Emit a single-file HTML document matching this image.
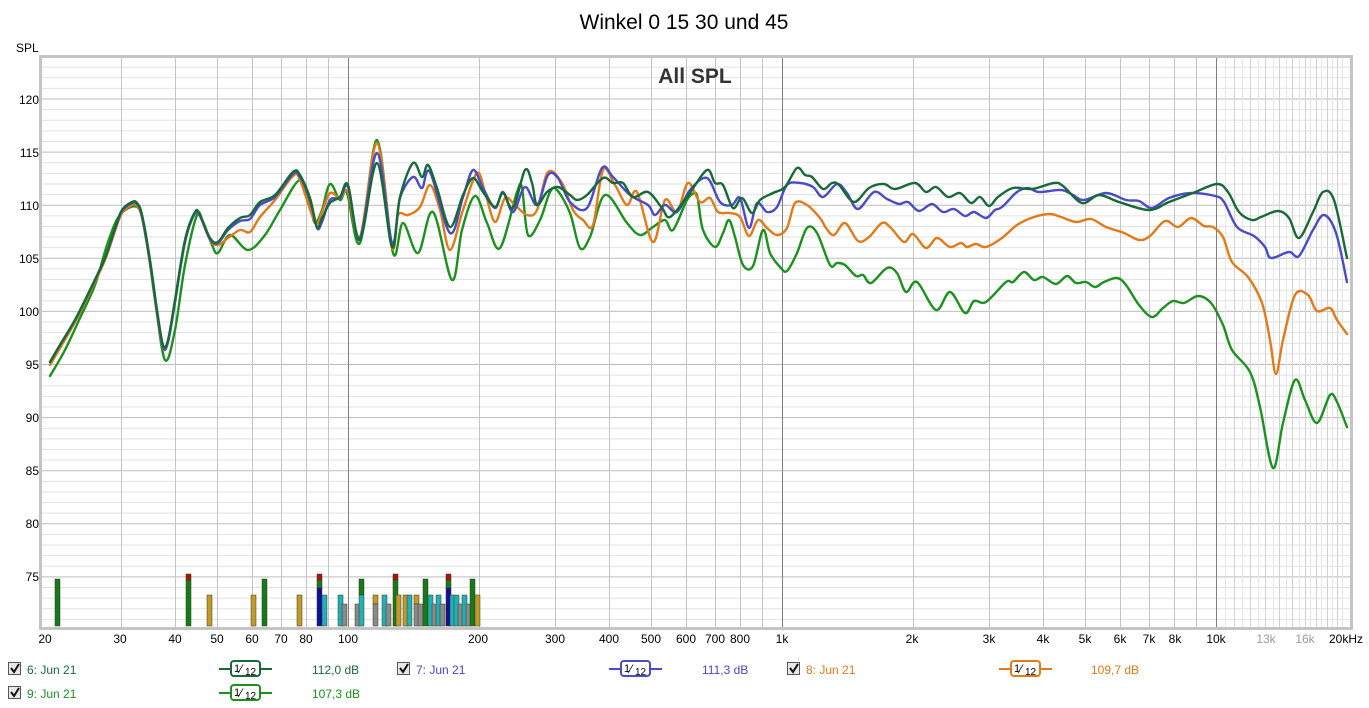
<!DOCTYPE html>
<html><head><meta charset="utf-8"><style>
html,body{margin:0;padding:0;background:#fff;width:1369px;height:708px;overflow:hidden}
svg{display:block;font-family:"Liberation Sans",sans-serif}
</style></head><body>
<svg id="s" width="1369" height="708" xmlns="http://www.w3.org/2000/svg">
<rect width="1369" height="708" fill="#fff"/>
<text x="684" y="29" font-size="21" text-anchor="middle" fill="#000">Winkel 0 15 30 und 45</text>
<text x="16" y="52" font-size="12" fill="#000">SPL</text>
<rect x="40.5" y="56.5" width="1311" height="572" fill="none" stroke="#c4c4c4" stroke-width="3"/>
<g id="grid"></g>
<g id="bars"></g>
<text x="695" y="83" font-size="21" font-weight="bold" text-anchor="middle" fill="#333">All SPL</text>
<g id="curves" fill="none" stroke-width="2.4" stroke-linejoin="round" stroke-linecap="round"></g>
<g font-size="12" fill="#000" text-anchor="end">
<text x="39" y="104">120</text><text x="39" y="157">115</text><text x="39" y="210">110</text><text x="39" y="263">105</text><text x="39" y="316">100</text><text x="39" y="369">95</text><text x="39" y="422">90</text><text x="39" y="475">85</text><text x="39" y="528">80</text><text x="39" y="581">75</text>
</g>
<g font-size="12" fill="#000" text-anchor="middle">
<text x="45" y="643">20</text><text x="120" y="643">30</text><text x="175" y="643">40</text><text x="217" y="643">50</text><text x="252" y="643">60</text><text x="281" y="643">70</text><text x="306" y="643">80</text><text x="348" y="643">100</text><text x="478" y="643">200</text><text x="555" y="643">300</text><text x="609" y="643">400</text><text x="651" y="643">500</text><text x="686" y="643">600</text><text x="715" y="643">700</text><text x="740" y="643">800</text><text x="782" y="643">1k</text><text x="912" y="643">2k</text><text x="989" y="643">3k</text><text x="1043" y="643">4k</text><text x="1085" y="643">5k</text><text x="1120" y="643">6k</text><text x="1149" y="643">7k</text><text x="1175" y="643">8k</text><text x="1216" y="643">10k</text><text x="1266" y="643" fill="#999">13k</text><text x="1305" y="643" fill="#999">16k</text><text x="1346" y="643">20kHz</text>
</g>
<g font-size="12">
<g id="cbs"></g>
<text x="27" y="674" fill="#1a6b3a">6: Jun 21</text>
<text x="312" y="674" fill="#1a6b3a">112,0 dB</text>
<text x="416" y="674" fill="#4848c0">7: Jun 21</text>
<text x="702" y="674" fill="#4848c0">111,3 dB</text>
<text x="806" y="674" fill="#e07b1a">8: Jun 21</text>
<text x="1091" y="674" fill="#e07b1a">109,7 dB</text>
<text x="27" y="698" fill="#1c9120">9: Jun 21</text>
<text x="312" y="698" fill="#1c9120">107,3 dB</text>
<g id="syms"></g>
</g>
</svg>
<script>
var NS="http://www.w3.org/2000/svg";
function el(p,t,a,txt){var e=document.createElementNS(NS,t);for(var k in a)e.setAttribute(k,a[k]);if(txt!==undefined)e.textContent=txt;p.appendChild(e);return e;}
var L=42,R=1350,T=58,B=627;
function X(f){return 348+434*Math.log10(f/100);}
function Y(d){return 99+(120-d)*10.62;}
var g=document.getElementById('grid');
el(g,'rect',{x:L,y:T,width:R-L,height:B-T,fill:'#fff'});
for(var d=71;d<=123;d++){var y=Y(d);el(g,'line',{x1:L,x2:R,y1:y,y2:y,stroke:d%5==0?'#bdbdbd':'#e2e2e2','stroke-width':1});}
var fs=[];for(var f=30;f<100;f+=10)fs.push([f,'#c4c4c4']);for(f=200;f<1000;f+=100)fs.push([f,'#c4c4c4']);for(f=2000;f<10000;f+=1000)fs.push([f,'#c4c4c4']);
for(f=10500;f<20000;f+=500)fs.push([f,f%1000==0?'#d2d2d2':'#e6e6e6']);
fs.forEach(function(a){var x=Math.round(X(a[0]))+0.5;el(g,'line',{x1:x,x2:x,y1:T,y2:B,stroke:a[1]});});
[100,1000,10000].forEach(function(f){var x=Math.round(X(f))+0.5;el(g,'line',{x1:x,x2:x,y1:T,y2:B,stroke:'#808080'});});
var bg=document.getElementById('bars');
function bar(x,segs){segs.forEach(function(s){el(bg,'rect',{x:x-2,y:s[0],width:5,height:s[1]-s[0],fill:s[2],stroke:'#3a3a20','stroke-width':0.5});});}
var GR='#157a1a',GO='#c09a2a',TE='#22b0b8',GY='#8a8a8a',RD='#b01010',BL='#10109a';
bar(57,[[579,626,GR]]);bar(188,[[574,580,RD],[580,626,GR]]);bar(209,[[595,626,GO]]);bar(253,[[595,626,GO]]);bar(264,[[579,626,GR]]);bar(299,[[595,626,GO]]);
bar(319,[[574,580,RD],[580,588,GR],[588,626,BL]]);bar(324,[[595,626,TE]]);bar(340,[[595,626,TE]]);bar(344,[[604,626,GY]]);bar(357,[[604,626,GY]]);bar(361,[[579,595,GR],[595,626,TE]]);
bar(375,[[595,604,GO],[604,626,GY]]);bar(384,[[595,626,TE]]);bar(388,[[604,626,GY]]);bar(395,[[574,580,RD],[580,626,GR]]);bar(398,[[595,626,GO]]);bar(405,[[595,626,GO]]);bar(409,[[595,626,TE]]);
bar(416,[[595,604,GO],[604,626,GY]]);bar(420,[[604,626,GY]]);bar(425,[[579,626,GR]]);bar(430,[[595,626,TE]]);bar(434,[[604,626,GY]]);bar(438,[[595,626,TE]]);bar(442,[[604,626,GY]]);
bar(448,[[574,580,RD],[580,588,GR],[588,626,BL]]);bar(452,[[595,626,TE]]);bar(456,[[595,626,TE]]);bar(460,[[604,626,GY]]);bar(464,[[595,626,TE]]);bar(468,[[604,626,GY]]);bar(472,[[579,626,GR]]);bar(477,[[595,626,GO]]);
function path(p){var s='M'+p[0][0]+','+p[0][1];for(var i=0;i<p.length-1;i++){var p0=p[i-1]||p[i],p1=p[i],p2=p[i+1],p3=p[i+2]||p2;var t=6;
s+=' C'+(p1[0]+(p2[0]-p0[0])/t).toFixed(1)+','+(p1[1]+(p2[1]-p0[1])/t).toFixed(1)+' '+(p2[0]-(p3[0]-p1[0])/t).toFixed(1)+','+(p2[1]-(p3[1]-p1[1])/t).toFixed(1)+' '+p2[0]+','+p2[1];}return s;}
var low=[[50,362],[60,345],[75,320],[90,290],[105,258],[115,228],[122,210],[132,202],[137,203],[142,215],[150,260],[157,310],[163,345],[168,340],[175,300],[185,240],[195,212],[200,215],[210,238],[218,242],[228,228],[240,218],[250,215]];
var DG=low.concat([[260,202],[275,195],[293,172],[300,175],[310,198],[317,227],[322,218],[330,203],[340,197],[348,185],[360,240],[377,163],[392,247],[400,197],[413,163],[422,177],[428,165],[437,188],[450,227],[463,195],[473,178],[483,192],[495,207],[503,193],[513,208],[525,170],[532,183],[537,205],[547,192],[558,187],[570,195],[577,200],[587,195],[603,178],[613,183],[623,183],[633,197],[648,192],[662,208],[670,217],[687,197],[690,193],[707,170],[715,183],[723,185],[733,208],[742,198],[752,213],[760,200],[773,193],[785,187],[797,168],[805,175],[812,177],[823,189],[832,183],[839,185],[854,202],[869,188],[884,184],[895,189],[915,183],[926,192],[936,187],[948,197],[960,193],[971,203],[980,197],[989,206],[998,197],[1013,188],[1032,189],[1054,183],[1063,186],[1082,203],[1099,195],[1119,202],[1149,210],[1169,202],[1193,193],[1217,184],[1228,192],[1239,212],[1252,220],[1261,217],[1278,211],[1289,218],[1299,238],[1313,212],[1323,192],[1334,200],[1347,258]]);
var BLc=[[50,362],[60,345],[75,320],[90,290],[105,258],[115,229],[122,211],[132,203],[137,204],[142,216],[150,262],[157,312],[163,347],[168,342],[175,302],[185,242],[195,213],[200,216],[210,239],[218,243],[228,230],[240,221],[250,219],[260,205],[275,197],[293,174],[300,177],[310,200],[317,228],[322,222],[330,200],[340,198],[348,187],[360,238],[377,153],[392,243],[400,198],[413,177],[422,188],[430,172],[450,233],[463,197],[473,170],[483,188],[495,208],[503,192],[513,212],[525,187],[537,205],[548,175],[558,178],[570,202],[587,208],[602,168],[613,177],[630,195],[648,205],[655,215],[665,205],[677,212],[690,190],[707,178],[720,202],[732,205],[740,198],[749,228],[757,203],[767,212],[777,207],[787,185],[800,183],[813,187],[823,197],[837,184],[847,193],[858,209],[874,192],[887,199],[899,204],[908,202],[919,211],[932,204],[943,212],[954,209],[965,216],[974,212],[986,218],[995,210],[1002,207],[1017,192],[1028,188],[1039,192],[1061,190],[1073,195],[1084,200],[1106,193],[1126,200],[1139,201],[1152,208],[1169,198],[1191,193],[1215,196],[1224,202],[1237,227],[1254,236],[1265,247],[1271,258],[1289,252],[1299,256],[1313,230],[1324,215],[1336,233],[1347,282]];
var OR=[[50,365],[60,348],[75,322],[90,292],[105,260],[115,231],[122,213],[132,205],[137,206],[142,218],[150,264],[157,314],[163,348],[168,342],[175,302],[185,242],[195,213],[200,216],[210,240],[218,245],[228,238],[240,230],[250,232],[260,217],[275,200],[293,176],[300,180],[315,222],[322,212],[330,193],[340,198],[348,192],[360,237],[377,143],[392,247],[398,215],[408,215],[420,207],[430,185],[440,210],[450,250],[463,210],[477,173],[485,192],[495,222],[505,198],[515,205],[527,215],[537,210],[548,172],[562,183],[573,210],[583,220],[593,225],[603,170],[615,185],[627,205],[637,192],[653,242],[665,200],[677,212],[688,183],[700,202],[710,198],[718,212],[730,213],[740,217],[749,236],[758,220],[767,228],[777,235],[787,228],[795,203],[807,205],[820,218],[826,228],[834,235],[845,223],[858,241],[869,237],[882,223],[891,228],[904,242],[913,234],[926,248],[937,238],[950,247],[961,243],[967,247],[976,244],[986,247],[1002,238],[1017,225],[1034,217],[1050,214],[1061,217],[1076,222],[1091,219],[1106,227],[1124,233],[1139,240],[1150,236],[1165,221],[1178,227],[1191,218],[1204,226],[1213,227],[1223,237],[1232,262],[1248,277],[1262,303],[1270,340],[1276,374],[1283,340],[1295,295],[1308,295],[1317,311],[1330,308],[1337,320],[1347,334]];
var GN=[[50,376],[65,350],[80,318],[95,285],[108,242],[120,215],[137,207],[145,230],[155,300],[165,360],[175,330],[185,265],[197,215],[203,222],[212,245],[218,253],[230,235],[248,250],[265,235],[280,210],[300,180],[310,205],[315,223],[322,210],[330,184],[340,200],[347,193],[360,243],[377,140],[393,253],[403,223],[418,253],[433,212],[452,280],[462,230],[475,196],[487,223],[500,248],[517,192],[522,188],[528,235],[540,220],[550,192],[557,190],[570,213],[580,248],[590,237],[605,195],[627,223],[640,235],[653,227],[665,220],[673,230],[687,200],[695,193],[698,200],[703,230],[715,247],[723,233],[729,220],[735,237],[743,265],[753,266],[763,230],[770,253],[780,267],[787,271],[797,253],[807,228],[817,233],[830,265],[837,263],[845,265],[856,276],[863,275],[871,283],[887,268],[897,273],[906,292],[917,282],[936,310],[950,292],[965,313],[974,301],[986,302],[1006,282],[1013,282],[1024,272],[1034,280],[1043,277],[1056,284],[1067,276],[1076,283],[1086,282],[1095,287],[1104,282],[1117,278],[1126,285],[1139,305],[1152,317],[1163,308],[1173,301],[1184,303],[1198,296],[1211,303],[1223,325],[1232,350],[1250,372],[1260,407],[1273,468],[1283,423],[1295,380],[1305,400],[1317,423],[1330,395],[1337,402],[1347,427]];
var cg=document.getElementById('curves');
el(cg,'path',{d:path(GN),stroke:'#1c9120'});
el(cg,'path',{d:path(OR),stroke:'#e07b1a'});
el(cg,'path',{d:path(BLc),stroke:'#4b4bc8'});
el(cg,'path',{d:path(DG),stroke:'#176a38'});
var cb=document.getElementById('cbs');
[[8,662],[397,662],[787,662],[8,686]].forEach(function(p){el(cb,'rect',{x:p[0]+0.5,y:p[1]+0.5,width:12,height:12,fill:'#e8e8e8',stroke:'#555'});el(cb,'path',{d:'M'+(p[0]+3)+','+(p[1]+6)+' l3,4 l5,-8',stroke:'#111','stroke-width':2,fill:'none'});});
var sy=document.getElementById('syms');
[[219,669,'#176a38'],[609,669,'#4b4bc8'],[999,669,'#e07b1a'],[219,693,'#1c9120']].forEach(function(p){var x=p[0],y=p[1],c=p[2];
el(sy,'line',{x1:x,x2:x+53,y1:y,y2:y,stroke:c,'stroke-width':2});
el(sy,'rect',{x:x+12,y:y-8,width:29,height:15,rx:3,fill:'#fff',stroke:c,'stroke-width':2});
el(sy,'text',{x:x+15,y:y+3,'font-size':11,fill:'#000'},'1');
el(sy,'text',{x:x+21,y:y+4,'font-size':12,fill:'#000'},'\u2044');
el(sy,'text',{x:x+26,y:y+6,'font-size':10,fill:'#000'},'12');});
</script>
</body></html>
